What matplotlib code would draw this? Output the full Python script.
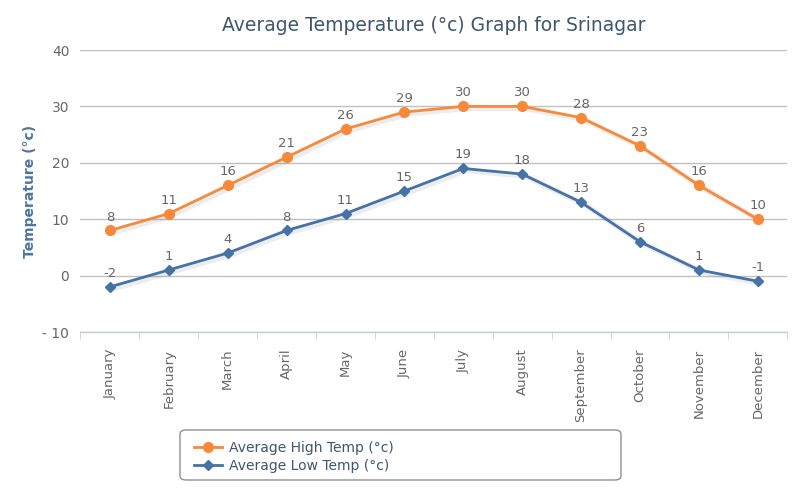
import matplotlib
matplotlib.use("Agg")
import matplotlib.pyplot as plt
from matplotlib.patches import FancyBboxPatch

months = ["January", "February", "March", "April", "May", "June",
          "July", "August", "September", "October", "November", "December"]
high = [8, 11, 16, 21, 26, 29, 30, 30, 28, 23, 16, 10]
low = [-2, 1, 4, 8, 11, 15, 19, 18, 13, 6, 1, -1]

orange = "#F7893B"
blue = "#4572A7"
label_col = "#666666"

plt.rcParams['font.family'] = ['DejaVu Sans']
plt.rcParams['axes.unicode_minus'] = False

fig = plt.figure(figsize=(8, 5), dpi=100)
ax = fig.add_axes([0.1006, 0.336, 0.8834, 0.564])

x = list(range(len(months)))

# faint shadow under lines, like the original
for ys in (high, low):
    ax.plot([v + 0.05 for v in x], [v - 0.35 for v in ys], color="#000000",
            alpha=0.07, lw=4, zorder=2, solid_capstyle="round")

ax.plot(x, high, color=orange, lw=2, marker="o", markersize=7,
        label="Average High Temp (°c)", zorder=3)
ax.plot(x, low, color=blue, lw=2, marker="D", markersize=5.5,
        label="Average Low Temp (°c)", zorder=3)

for xi, v in zip(x, high):
    ax.annotate(str(v), (xi, v), xytext=(0, 5), textcoords="offset points",
                ha="center", va="bottom", fontsize=9.5, color=label_col)
for xi, v in zip(x, low):
    ax.annotate(str(v), (xi, v), xytext=(0, 5), textcoords="offset points",
                ha="center", va="bottom", fontsize=9.5, color=label_col)

ax.set_xlim(-0.5, 11.5)
ax.set_ylim(-10, 40)
ax.set_yticks([-10, 0, 10, 20, 30, 40])
ax.set_yticklabels(["- 10", "0", "10", "20", "30", "40"])
ax.grid(axis="y", color="#C0C0C0", lw=1)
ax.set_axisbelow(True)

for side in ("top", "right", "left"):
    ax.spines[side].set_visible(False)
ax.spines["bottom"].set_color("#C0D0E0")
ax.spines["bottom"].set_linewidth(1)

ax.set_xticks(x)
ax.set_xticklabels(months, rotation=90, fontsize=9.5, color=label_col)
ax.tick_params(axis="x", length=0, pad=12)
ax.set_xticks([i + 0.5 for i in range(-1, 12)], minor=True)
ax.tick_params(axis="x", which="minor", length=5, color="#C0D0E0")
ax.tick_params(axis="y", length=0, labelsize=10, labelcolor=label_col, pad=8)

ax.set_ylabel("Temperature (°c)", color="#4D759E", fontsize=10,
              fontweight="bold", labelpad=4)
ax.set_title("Average Temperature (°c) Graph for Srinagar", color="#3E576F",
             fontsize=13.5, pad=14)

# legend box frame drawn separately to get the wide Highcharts-style box
frame = FancyBboxPatch((180 / 800, 1 - 480 / 500), 441 / 800, 50 / 500,
                       boxstyle="round,pad=0,rounding_size=0.008",
                       transform=fig.transFigure, facecolor="white",
                       edgecolor="#909090", lw=1)
fig.patches.append(frame)
leg = fig.legend(loc="upper left", bbox_to_anchor=(183 / 800, 1 - 430 / 500),
                 frameon=False, fontsize=10, handlelength=2, borderpad=0.3,
                 labelspacing=0.3, handletextpad=0.5)
for t in leg.get_texts():
    t.set_color("#3E576F")

fig.savefig("out.png", dpi=100)
